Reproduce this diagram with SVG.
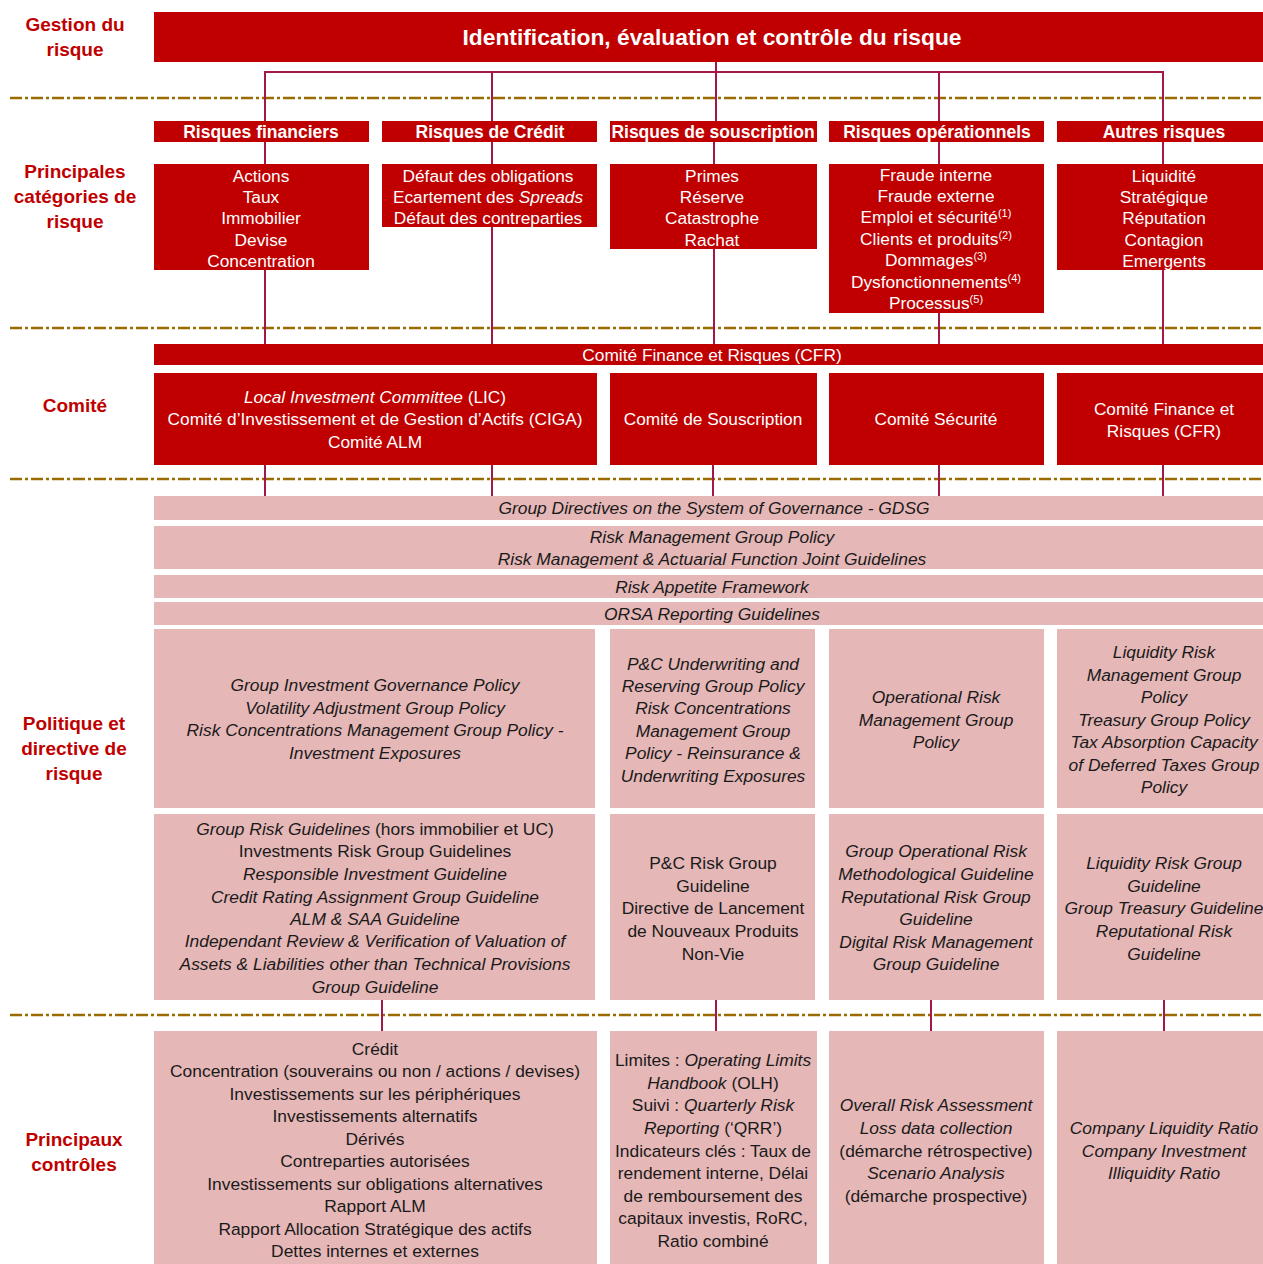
<svg xmlns="http://www.w3.org/2000/svg" width="1263" height="1264" viewBox="0 0 1263 1264">
<style>
text{font-family:"Liberation Sans",Arial,sans-serif;text-anchor:middle}
.lbl{font-size:19px;font-weight:bold;fill:#c00000}
.red{fill:#c00000}
.pink{fill:#e5b7b7}
.w{fill:#ffffff;font-size:17.3px}
.wb{fill:#ffffff;font-size:17.5px;font-weight:bold}
.k{fill:#1a1a1a;font-size:17.4px}
.i{font-style:italic}
.sup{font-size:11px}
.sep{stroke:#9c6b00;stroke-width:2.5;stroke-dasharray:12 3 3 3;fill:none}
.con{stroke:#a3174a;stroke-width:2;fill:none}
</style>
<rect width="1263" height="1264" fill="#ffffff"/>
<g id="separators">
<line class="sep" x1="10" y1="98" x2="1263" y2="98"/>
<line class="sep" x1="10" y1="328" x2="1263" y2="328"/>
<line class="sep" x1="10" y1="479" x2="1263" y2="479"/>
<line class="sep" x1="10" y1="1015" x2="1263" y2="1015"/>
</g>
<g id="connectors">
<polyline class="con" points="716,62 716,72"/>
<polyline class="con" points="265,121 265,72 1163,72 1163,121"/>
<line class="con" x1="492" y1="72" x2="492" y2="121"/>
<line class="con" x1="716" y1="72" x2="716" y2="121"/>
<line class="con" x1="939" y1="72" x2="939" y2="121"/>
<line class="con" x1="265" y1="142" x2="265" y2="344"/>
<line class="con" x1="492" y1="142" x2="492" y2="344"/>
<line class="con" x1="714" y1="142" x2="714" y2="344"/>
<line class="con" x1="939" y1="142" x2="939" y2="344"/>
<line class="con" x1="1163" y1="142" x2="1163" y2="344"/>
<line class="con" x1="265" y1="465" x2="265" y2="496"/>
<line class="con" x1="492" y1="465" x2="492" y2="496"/>
<line class="con" x1="713" y1="465" x2="713" y2="496"/>
<line class="con" x1="939" y1="465" x2="939" y2="496"/>
<line class="con" x1="1163" y1="465" x2="1163" y2="496"/>
<line class="con" x1="382" y1="1000" x2="382" y2="1031"/>
<line class="con" x1="716" y1="1000" x2="716" y2="1031"/>
<line class="con" x1="931" y1="1000" x2="931" y2="1031"/>
<line class="con" x1="1164" y1="1000" x2="1164" y2="1031"/>
</g>
<g id="row-labels">
<text class="lbl" x="75" y="31">Gestion du</text>
<text class="lbl" x="75" y="56">risque</text>
<text class="lbl" x="75" y="178">Principales</text>
<text class="lbl" x="75" y="203">catégories de</text>
<text class="lbl" x="75" y="228">risque</text>
<text class="lbl" x="75" y="412">Comité</text>
<text class="lbl" x="74" y="730">Politique et</text>
<text class="lbl" x="74" y="755">directive de</text>
<text class="lbl" x="74" y="780">risque</text>
<text class="lbl" x="74" y="1146">Principaux</text>
<text class="lbl" x="74" y="1171">contrôles</text>
</g>
<g id="top">
<rect class="red" x="154" y="12" width="1109" height="50"/>
<text x="712" y="45" fill="#ffffff" font-size="22.8" font-weight="bold">Identification, évaluation et contrôle du risque</text>
</g>
<g id="cat-financiers">
<rect class="red" x="154" y="121" width="215" height="21"/>
<text class="wb" x="261" y="138">Risques financiers</text>
<rect class="red" x="154" y="164" width="215" height="106"/>
<text class="w" x="261" y="182">Actions</text>
<text class="w" x="261" y="203">Taux</text>
<text class="w" x="261" y="224">Immobilier</text>
<text class="w" x="261" y="246">Devise</text>
<text class="w" x="261" y="267">Concentration</text>
</g>
<g id="cat-credit">
<rect class="red" x="382" y="121" width="215" height="21"/>
<text class="wb" x="490" y="138">Risques de Crédit</text>
<rect class="red" x="382" y="164" width="215" height="63"/>
<text class="w" x="488" y="182">Défaut des obligations</text>
<text class="w" x="488" y="203">Ecartement des <tspan class="i">Spreads</tspan></text>
<text class="w" x="488" y="224">Défaut des contreparties</text>
</g>
<g id="cat-souscription">
<rect class="red" x="610" y="121" width="207" height="21"/>
<text class="wb" x="713" y="138">Risques de souscription</text>
<rect class="red" x="610" y="164" width="207" height="85"/>
<text class="w" x="712" y="182">Primes</text>
<text class="w" x="712" y="203">Réserve</text>
<text class="w" x="712" y="224">Catastrophe</text>
<text class="w" x="712" y="246">Rachat</text>
</g>
<g id="cat-operationnels">
<rect class="red" x="829" y="121" width="215" height="21"/>
<text class="wb" x="937" y="138">Risques opérationnels</text>
<rect class="red" x="829" y="164" width="215" height="149"/>
<text class="w" x="936" y="181">Fraude interne</text>
<text class="w" x="936" y="202">Fraude externe</text>
<text class="w" x="936" y="223">Emploi et sécurité<tspan class="sup" dy="-6">(1)</tspan></text>
<text class="w" x="936" y="245">Clients et produits<tspan class="sup" dy="-6">(2)</tspan></text>
<text class="w" x="936" y="266">Dommages<tspan class="sup" dy="-6">(3)</tspan></text>
<text class="w" x="936" y="288">Dysfonctionnements<tspan class="sup" dy="-6">(4)</tspan></text>
<text class="w" x="936" y="309">Processus<tspan class="sup" dy="-6">(5)</tspan></text>
</g>
<g id="cat-autres">
<rect class="red" x="1057" y="121" width="206" height="21"/>
<text class="wb" x="1164" y="138">Autres risques</text>
<rect class="red" x="1057" y="164" width="206" height="106"/>
<text class="w" x="1164" y="182">Liquidité</text>
<text class="w" x="1164" y="203">Stratégique</text>
<text class="w" x="1164" y="224">Réputation</text>
<text class="w" x="1164" y="246">Contagion</text>
<text class="w" x="1164" y="267">Emergents</text>
</g>
<g id="cfr-bar">
<rect class="red" x="154" y="344" width="1109" height="21"/>
<text class="w" x="712" y="361">Comité Finance et Risques (CFR)</text>
</g>
<g id="com-invest">
<rect class="red" x="154" y="373" width="443" height="92"/>
<text class="w" x="375" y="403"><tspan class="i">Local Investment Committee</tspan> (LIC)</text>
<text class="w" x="375" y="425">Comité d’Investissement et de Gestion d’Actifs (CIGA)</text>
<text class="w" x="375" y="448">Comité ALM</text>
</g>
<g id="com-souscription">
<rect class="red" x="610" y="373" width="207" height="92"/>
<text class="w" x="713" y="425">Comité de Souscription</text>
</g>
<g id="com-securite">
<rect class="red" x="829" y="373" width="215" height="92"/>
<text class="w" x="936" y="425">Comité Sécurité</text>
</g>
<g id="com-cfr">
<rect class="red" x="1057" y="373" width="206" height="92"/>
<text class="w" x="1164" y="415">Comité Finance et</text>
<text class="w" x="1164" y="437">Risques (CFR)</text>
</g>
<g id="gdsg">
<rect class="pink" x="154" y="496" width="1109" height="24"/>
<text class="k i" x="714" y="514">Group Directives on the System of Governance - GDSG</text>
</g>
<g id="rmgp">
<rect class="pink" x="154" y="526" width="1109" height="43"/>
<text class="k i" x="712" y="543">Risk Management Group Policy</text>
<text class="k i" x="712" y="565">Risk Management &amp; Actuarial Function Joint Guidelines</text>
</g>
<g id="raf">
<rect class="pink" x="154" y="575" width="1109" height="23"/>
<text class="k i" x="712" y="593">Risk Appetite Framework</text>
</g>
<g id="orsa">
<rect class="pink" x="154" y="602" width="1109" height="23"/>
<text class="k i" x="712" y="620">ORSA Reporting Guidelines</text>
</g>
<g id="pol-invest">
<rect class="pink" x="154" y="629" width="441" height="179"/>
<text class="k i" x="375" y="691">Group Investment Governance Policy</text>
<text class="k i" x="375" y="714">Volatility Adjustment Group Policy</text>
<text class="k i" x="375" y="736">Risk Concentrations Management Group Policy -</text>
<text class="k i" x="375" y="759">Investment Exposures</text>
</g>
<g id="pol-souscription">
<rect class="pink" x="610" y="629" width="205" height="179"/>
<text class="k i" x="713" y="670">P&amp;C Underwriting and</text>
<text class="k i" x="713" y="692">Reserving Group Policy</text>
<text class="k i" x="713" y="714">Risk Concentrations</text>
<text class="k i" x="713" y="737">Management Group</text>
<text class="k i" x="713" y="759">Policy - Reinsurance &amp;</text>
<text class="k i" x="713" y="782">Underwriting Exposures</text>
</g>
<g id="pol-oper">
<rect class="pink" x="829" y="629" width="215" height="179"/>
<text class="k i" x="936" y="703">Operational Risk</text>
<text class="k i" x="936" y="726">Management Group</text>
<text class="k i" x="936" y="748">Policy</text>
</g>
<g id="pol-autres">
<rect class="pink" x="1057" y="629" width="206" height="179"/>
<text class="k i" x="1164" y="658">Liquidity Risk</text>
<text class="k i" x="1164" y="681">Management Group</text>
<text class="k i" x="1164" y="703">Policy</text>
<text class="k i" x="1164" y="726">Treasury Group Policy</text>
<text class="k i" x="1164" y="748">Tax Absorption Capacity</text>
<text class="k i" x="1164" y="771">of Deferred Taxes Group</text>
<text class="k i" x="1164" y="793">Policy</text>
</g>
<g id="gl-invest">
<rect class="pink" x="154" y="814" width="441" height="186"/>
<text class="k" x="375" y="835"><tspan class="i">Group Risk Guidelines</tspan> (hors immobilier et UC)</text>
<text class="k" x="375" y="857">Investments Risk Group Guidelines</text>
<text class="k i" x="375" y="880">Responsible Investment Guideline</text>
<text class="k i" x="375" y="903">Credit Rating Assignment Group Guideline</text>
<text class="k i" x="375" y="925">ALM &amp; SAA Guideline</text>
<text class="k i" x="375" y="947">Independant Review &amp; Verification of Valuation of</text>
<text class="k i" x="375" y="970">Assets &amp; Liabilities other than Technical Provisions</text>
<text class="k i" x="375" y="993">Group Guideline</text>
</g>
<g id="gl-souscription">
<rect class="pink" x="610" y="814" width="205" height="186"/>
<text class="k" x="713" y="869">P&amp;C Risk Group</text>
<text class="k" x="713" y="892">Guideline</text>
<text class="k" x="713" y="914">Directive de Lancement</text>
<text class="k" x="713" y="937">de Nouveaux Produits</text>
<text class="k" x="713" y="960">Non-Vie</text>
</g>
<g id="gl-oper">
<rect class="pink" x="829" y="814" width="215" height="186"/>
<text class="k i" x="936" y="857">Group Operational Risk</text>
<text class="k i" x="936" y="880">Methodological Guideline</text>
<text class="k i" x="936" y="903">Reputational Risk Group</text>
<text class="k i" x="936" y="925">Guideline</text>
<text class="k i" x="936" y="948">Digital Risk Management</text>
<text class="k i" x="936" y="970">Group Guideline</text>
</g>
<g id="gl-autres">
<rect class="pink" x="1057" y="814" width="206" height="186"/>
<text class="k i" x="1164" y="869">Liquidity Risk Group</text>
<text class="k i" x="1164" y="892">Guideline</text>
<text class="k i" x="1164" y="914">Group Treasury Guideline</text>
<text class="k i" x="1164" y="937">Reputational Risk</text>
<text class="k i" x="1164" y="960">Guideline</text>
</g>
<g id="ctl-invest">
<rect class="pink" x="154" y="1031" width="443" height="233"/>
<text class="k" x="375" y="1055">Crédit</text>
<text class="k" x="375" y="1077">Concentration (souverains ou non / actions / devises)</text>
<text class="k" x="375" y="1100">Investissements sur les périphériques</text>
<text class="k" x="375" y="1122">Investissements alternatifs</text>
<text class="k" x="375" y="1145">Dérivés</text>
<text class="k" x="375" y="1167">Contreparties autorisées</text>
<text class="k" x="375" y="1190">Investissements sur obligations alternatives</text>
<text class="k" x="375" y="1212">Rapport ALM</text>
<text class="k" x="375" y="1235">Rapport Allocation Stratégique des actifs</text>
<text class="k" x="375" y="1257">Dettes internes et externes</text>
</g>
<g id="ctl-souscription">
<rect class="pink" x="610" y="1031" width="207" height="233"/>
<text class="k" x="713" y="1066">Limites : <tspan class="i">Operating Limits</tspan></text>
<text class="k" x="713" y="1089"><tspan class="i">Handbook</tspan> (OLH)</text>
<text class="k" x="713" y="1111">Suivi : <tspan class="i">Quarterly Risk</tspan></text>
<text class="k" x="713" y="1134"><tspan class="i">Reporting</tspan> (‘QRR’)</text>
<text class="k" x="713" y="1157">Indicateurs clés : Taux de</text>
<text class="k" x="713" y="1179">rendement interne, Délai</text>
<text class="k" x="713" y="1202">de remboursement des</text>
<text class="k" x="713" y="1224">capitaux investis, RoRC,</text>
<text class="k" x="713" y="1247">Ratio combiné</text>
</g>
<g id="ctl-oper">
<rect class="pink" x="829" y="1031" width="215" height="233"/>
<text class="k i" x="936" y="1111">Overall Risk Assessment</text>
<text class="k i" x="936" y="1134">Loss data collection</text>
<text class="k" x="936" y="1157">(démarche rétrospective)</text>
<text class="k i" x="936" y="1179">Scenario Analysis</text>
<text class="k" x="936" y="1202">(démarche prospective)</text>
</g>
<g id="ctl-autres">
<rect class="pink" x="1057" y="1031" width="206" height="233"/>
<text class="k i" x="1164" y="1134">Company Liquidity Ratio</text>
<text class="k i" x="1164" y="1157">Company Investment</text>
<text class="k i" x="1164" y="1179">Illiquidity Ratio</text>
</g>
</svg>
